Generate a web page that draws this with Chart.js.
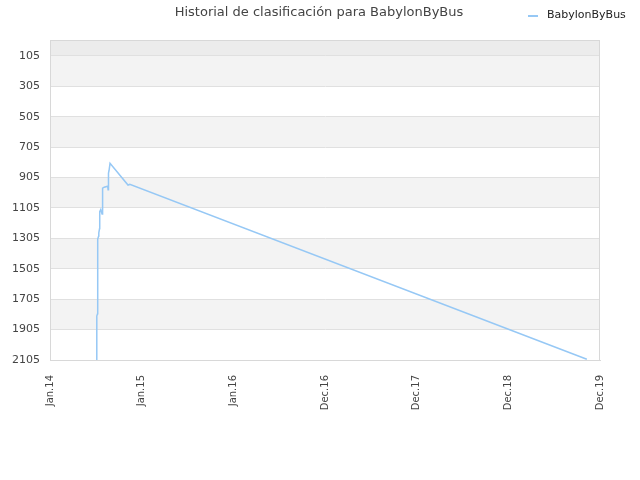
<!DOCTYPE html>
<html>
<head>
<meta charset="utf-8">
<script src="https://cdn.jsdelivr.net/npm/chart.js@4/dist/chart.umd.min.js"></script>
<style>
  html, body { margin: 0; padding: 0; background: #fff; }
  #wrap { width: 640px; height: 480px; }
</style>
</head>
<body>
<div id="wrap"><canvas id="rankChart" width="640" height="480"></canvas></div>
<script>
// x = months since Jan 2014, y = ranking position
const seriesName = 'BabylonByBus';
const months = [6.02, 6.04, 6.14, 6.16, 6.28, 6.30, 6.40, 6.42, 6.55, 6.72, 6.78, 6.80, 7.00, 7.45, 7.50, 7.55, 7.62, 7.75, 10.07, 10.30, 69.30];
const ranks  = [2105, 1816, 1800, 1309, 1290, 1268, 1240, 1129, 1115, 1145, 1140, 975, 968, 962, 985, 875, 860, 811, 954, 950, 2100];

const xTickLabels = ['Jan.14', 'Jan.15', 'Jan.16', 'Dec.16', 'Dec.17', 'Dec.18', 'Dec.19'];
const xTickMonths = [0, 11.83, 23.67, 35.5, 47.33, 59.17, 71];
const yTickLabels = [105, 305, 505, 705, 905, 1105, 1305, 1505, 1705, 1905, 2105];

const FONT = '"DejaVu Sans", sans-serif';

// alternating bands behind the grid + frame + title/legend
const chartDecor = {
    id: 'chartDecor',
    beforeDraw(chart) {
        const { ctx, chartArea: a, scales: { y } } = chart;
        const edges = [y.min].concat(yTickLabels);
        ctx.save();
        for (let i = 0; i < edges.length - 1; i++) {
            let fill = null;
            if (i === 0) fill = '#ececec';
            else if (i % 2 === 1) fill = '#f3f3f3';
            if (!fill) continue;
            const y1 = y.getPixelForValue(edges[i]);
            const y2 = y.getPixelForValue(edges[i + 1]);
            ctx.fillStyle = fill;
            ctx.fillRect(a.left, Math.min(y1, y2), a.right - a.left, Math.abs(y2 - y1));
        }
        ctx.restore();
    },
    afterDraw(chart) {
        const { ctx, chartArea: a } = chart;
        ctx.save();
        ctx.strokeStyle = '#d8d8d8';
        ctx.lineWidth = 1;
        ctx.strokeRect(a.left + 0.5, a.top + 0.5, a.right - a.left - 1, a.bottom - a.top);

        ctx.fillStyle = '#444';
        ctx.font = '13px ' + FONT;
        ctx.textAlign = 'center';
        ctx.textBaseline = 'middle';
        ctx.fillText('Historial de clasificación para ' + seriesName, 319, 13);

        ctx.strokeStyle = chart.data.datasets[0].borderColor;
        ctx.lineWidth = 2;
        ctx.beginPath();
        ctx.moveTo(528, 16);
        ctx.lineTo(538, 16);
        ctx.stroke();
        ctx.fillStyle = '#222';
        ctx.font = '11px ' + FONT;
        ctx.textAlign = 'left';
        ctx.fillText(chart.data.datasets[0].label, 547, 15);
        ctx.restore();
    }
};

const ctx = document.getElementById('rankChart').getContext('2d');
new Chart(ctx, {
    type: 'line',
    data: {
        datasets: [{
            label: seriesName,
            data: months.map((m, i) => ({ x: m, y: ranks[i] })),
            borderColor: '#96c8f5',
            borderWidth: 1.5,
            pointRadius: 0,
            tension: 0,
            fill: false
        }]
    },
    options: {
        responsive: false,
        animation: false,
        devicePixelRatio: 1,
        layout: { padding: { top: 40, right: 40, left: 0, bottom: 0 } },
        plugins: {
            legend: { display: false },
            title: { display: false },
            tooltip: { enabled: false }
        },
        scales: {
            x: {
                type: 'linear',
                min: 0,
                max: 71,
                afterBuildTicks: (s) => { s.ticks = xTickMonths.map(v => ({ value: v })); },
                afterFit: (s) => { s.height = 120; },
                grid: { display: false, drawTicks: false },
                border: { display: true, color: '#d8d8d8' },
                ticks: {
                    autoSkip: false,
                    minRotation: 90,
                    maxRotation: 90,
                    padding: 15,
                    color: '#444',
                    font: { family: FONT, size: 10 },
                    callback: (v, i) => xTickLabels[i]
                }
            },
            y: {
                type: 'linear',
                reverse: true,
                min: 0,
                max: 2105,
                afterBuildTicks: (s) => { s.ticks = yTickLabels.map(v => ({ value: v })); },
                afterFit: (s) => { s.width = 50; },
                grid: { color: '#e0e0e0', drawTicks: false },
                border: { display: true, color: '#d8d8d8' },
                ticks: {
                    padding: 10,
                    color: '#444',
                    font: { family: FONT, size: 11 },
                    callback: (v) => String(v)
                }
            }
        }
    },
    plugins: [chartDecor]
});
</script>
</body>
</html>
